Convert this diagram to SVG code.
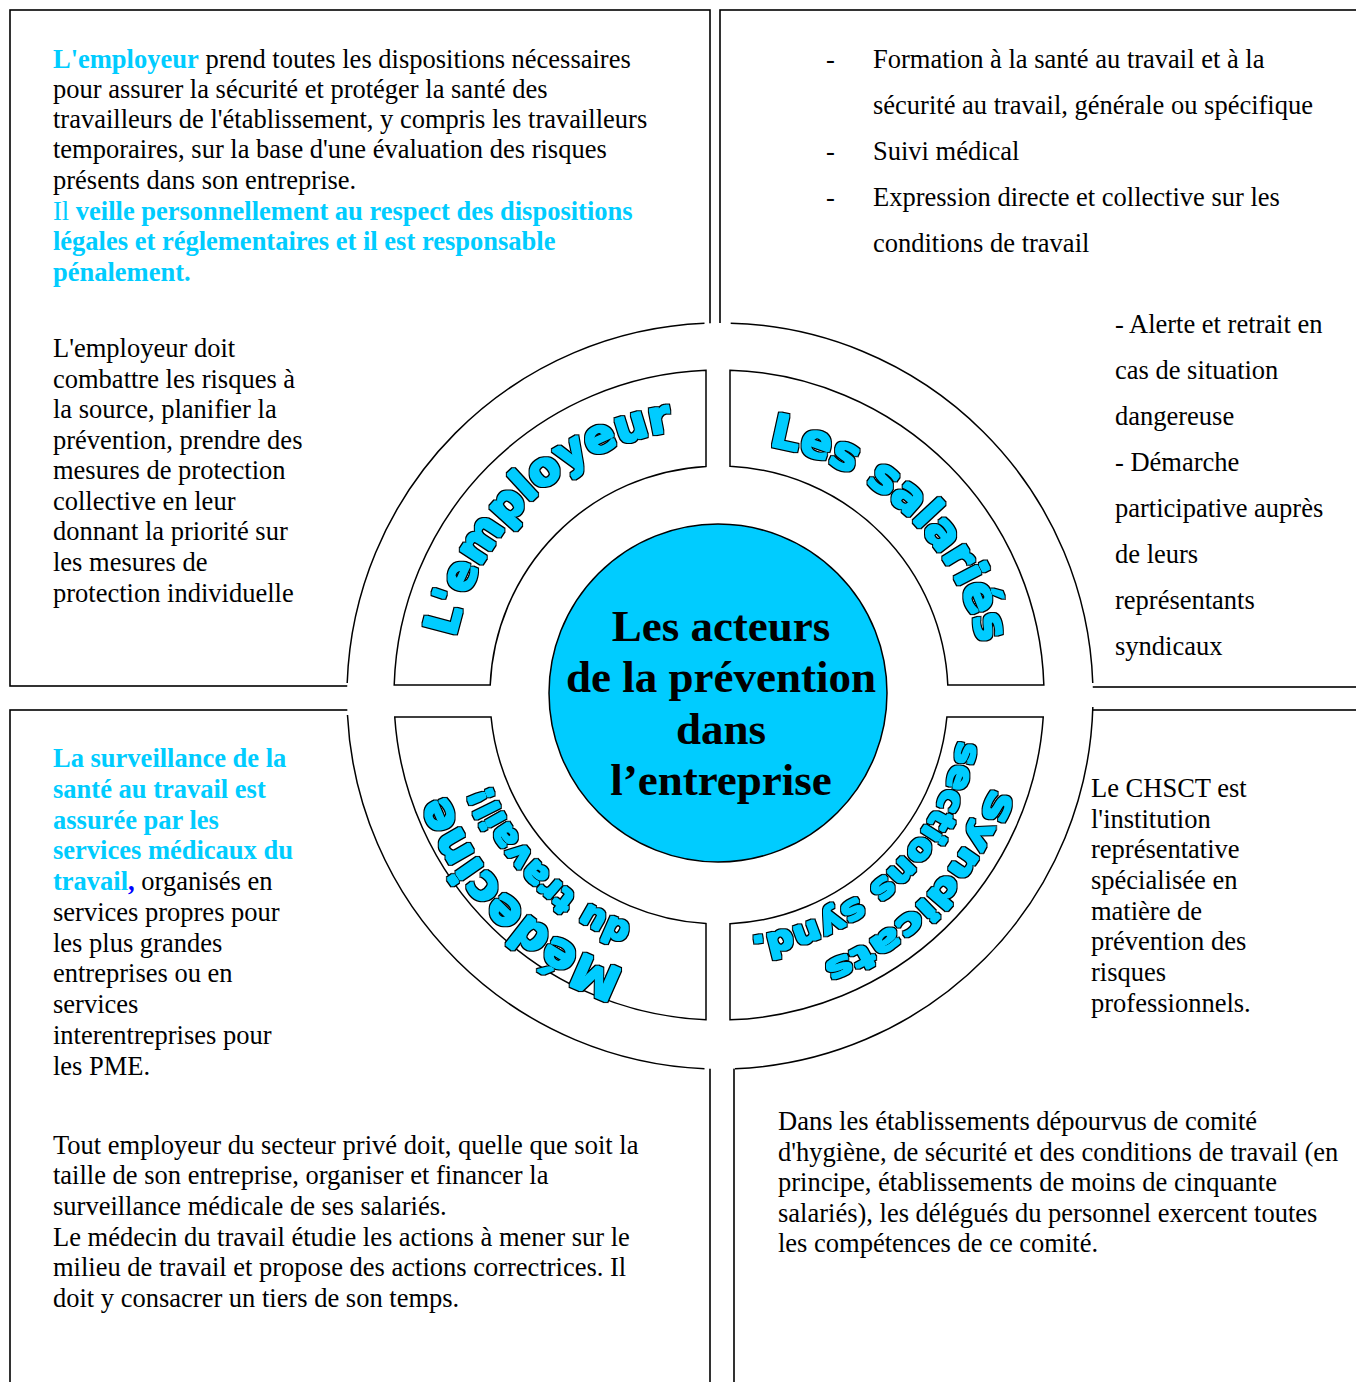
<svg xmlns="http://www.w3.org/2000/svg" width="1356" height="1382" viewBox="0 0 1356 1382">
<style>
.box{fill:none;stroke:#000;stroke-width:1.6}
.p{font-family:"Liberation Serif","Times New Roman",serif;font-size:26.5px;fill:#000}
.cy{fill:#00CCFF}
.b{font-weight:bold}
.ring{fill:none;stroke:#000;stroke-width:1.5}
.sector{fill:#fff;stroke:#000;stroke-width:1.5}
.wa{font-family:"DejaVu Sans",sans-serif;font-weight:bold;fill:#00CCFF;filter:url(#waf)}
.title{font-family:"Liberation Serif","Times New Roman",serif;font-size:45px;font-weight:bold;fill:#000;text-anchor:middle}
</style>
<defs>
<filter id="waf" filterUnits="userSpaceOnUse" x="0" y="0" width="1356" height="1382" color-interpolation-filters="sRGB">
<feMorphology in="SourceAlpha" operator="dilate" radius="2.2" result="o"/>
<feFlood flood-color="#000" result="k"/>
<feComposite in="k" in2="o" operator="in" result="ko"/>
<feMorphology in="SourceGraphic" operator="dilate" radius="0.7" result="f"/>
<feMerge><feMergeNode in="ko"/><feMergeNode in="f"/></feMerge>
</filter>
<path id="arcEmp" d="M 457.2 751.2 A 262 262 0 0 1 786.4 438.8"/>
<path id="arcSal" d="M 653.6 453.5 A 257.5 257.5 0 0 1 978.7 758.8"/>
<path id="arcMed" d="M 797 975.3 A 291 291 0 0 1 437.2 622.4"/>
<path id="arcTrav" d="M 783.7 932.3 A 246 246 0 0 1 481.1 632.4"/>
<path id="arcSynd" d="M 995.6 614.6 A 288 288 0 0 1 650.3 974.7"/>
<path id="arcSect" d="M 956.4 638.7 A 244 244 0 0 1 649.1 928.8"/>
</defs>
<rect width="1356" height="1382" fill="#fff"/>

<g id="box-employeur">
<rect class="box" x="10" y="10" width="700" height="676"/>
<text class="p" x="53" y="68"><tspan class="cy b">L'employeur</tspan> prend toutes les dispositions nécessaires</text>
<text class="p" x="53" y="98">pour assurer la sécurité et protéger la santé des</text>
<text class="p" x="53" y="128">travailleurs de l'établissement, y compris les travailleurs</text>
<text class="p" x="53" y="158">temporaires, sur la base d'une évaluation des risques</text>
<text class="p" x="53" y="189">présents dans son entreprise.</text>
<text class="p cy" x="53" y="220">Il <tspan class="b">veille personnellement au respect des dispositions</tspan></text>
<text class="p cy b" x="53" y="250">légales et réglementaires et il est responsable</text>
<text class="p cy b" x="53" y="281">pénalement.</text>
<text class="p" x="53" y="357">L'employeur doit</text>
<text class="p" x="53" y="388">combattre les risques à</text>
<text class="p" x="53" y="418">la source, planifier la</text>
<text class="p" x="53" y="449">prévention, prendre des</text>
<text class="p" x="53" y="479">mesures de protection</text>
<text class="p" x="53" y="510">collective en leur</text>
<text class="p" x="53" y="540">donnant la priorité sur</text>
<text class="p" x="53" y="571">les mesures de</text>
<text class="p" x="53" y="602">protection individuelle</text>
</g>

<g id="box-salaries">
<rect class="box" x="720" y="10" width="700" height="677"/>
<text class="p" x="826" y="68">-</text>
<text class="p" x="873" y="68">Formation à la santé au travail et à la</text>
<text class="p" x="873" y="114">sécurité au travail, générale ou spécifique</text>
<text class="p" x="826" y="160">-</text>
<text class="p" x="873" y="160">Suivi médical</text>
<text class="p" x="826" y="206">-</text>
<text class="p" x="873" y="206">Expression directe et collective sur les</text>
<text class="p" x="873" y="252">conditions de travail</text>
<text class="p" x="1115" y="333">- Alerte et retrait en</text>
<text class="p" x="1115" y="379">cas de situation</text>
<text class="p" x="1115" y="425">dangereuse</text>
<text class="p" x="1115" y="471">- Démarche</text>
<text class="p" x="1115" y="517">participative auprès</text>
<text class="p" x="1115" y="563">de leurs</text>
<text class="p" x="1115" y="609">représentants</text>
<text class="p" x="1115" y="655">syndicaux</text>
</g>

<g id="box-medecine">
<rect class="box" x="10" y="710" width="700" height="720"/>
<text class="p cy b" x="53" y="767">La surveillance de la</text>
<text class="p cy b" x="53" y="798">santé au travail est</text>
<text class="p cy b" x="53" y="829">assurée par les</text>
<text class="p cy b" x="53" y="859">services médicaux du</text>
<text class="p" x="53" y="890"><tspan class="cy b">travail</tspan><tspan class="b" fill="#0000FF">,</tspan> organisés en</text>
<text class="p" x="53" y="921">services propres pour</text>
<text class="p" x="53" y="952">les plus grandes</text>
<text class="p" x="53" y="982">entreprises ou en</text>
<text class="p" x="53" y="1013">services</text>
<text class="p" x="53" y="1044">interentreprises pour</text>
<text class="p" x="53" y="1075">les PME.</text>
<text class="p" x="53" y="1154">Tout employeur du secteur privé doit, quelle que soit la</text>
<text class="p" x="53" y="1184">taille de son entreprise, organiser et financer la</text>
<text class="p" x="53" y="1215">surveillance médicale de ses salariés.</text>
<text class="p" x="53" y="1246">Le médecin du travail étudie les actions à mener sur le</text>
<text class="p" x="53" y="1276">milieu de travail et propose des actions correctrices. Il</text>
<text class="p" x="53" y="1307">doit y consacrer un tiers de son temps.</text>
</g>

<g id="box-syndicats">
<rect class="box" x="734" y="710" width="700" height="720"/>
<text class="p" x="1091" y="797">Le CHSCT est</text>
<text class="p" x="1091" y="828">l'institution</text>
<text class="p" x="1091" y="858">représentative</text>
<text class="p" x="1091" y="889">spécialisée en</text>
<text class="p" x="1091" y="920">matière de</text>
<text class="p" x="1091" y="950">prévention des</text>
<text class="p" x="1091" y="981">risques</text>
<text class="p" x="1091" y="1012">professionnels.</text>
<text class="p" x="778" y="1130">Dans les établissements dépourvus de comité</text>
<text class="p" x="778" y="1161">d'hygiène, de sécurité et des conditions de travail (en</text>
<text class="p" x="778" y="1191">principe, établissements de moins de cinquante</text>
<text class="p" x="778" y="1222">salariés), les délégués du personnel exercent toutes</text>
<text class="p" x="778" y="1252">les compétences de ce comité.</text>
</g>

<g id="outer-ring">
<circle cx="720" cy="696" r="373" fill="#fff"/>
<path class="ring" d="M 347.2 683 A 373 373 0 0 1 704.5 323.3"/>
<path class="ring" d="M 730.7 323.15 A 373 373 0 0 1 1092.77 683"/>
<path class="ring" d="M 1092.84 707 A 373 373 0 0 1 735 1068.7"/>
<path class="ring" d="M 704.5 1068.68 A 373 373 0 0 1 347.48 715"/>
</g>

<g id="sector-employeur">
<path class="sector" d="M 394.2 685 A 325 325 0 0 1 706 370.3 L 706 466.4 A 229 229 0 0 0 490.2 685 Z"/>
<text class="wa" font-size="46"><textPath href="#arcEmp" startOffset="50%" text-anchor="middle">L'employeur</textPath></text>
</g>

<g id="sector-salaries">
<path class="sector" d="M 730 370.2 A 325 325 0 0 1 1043.85 685 L 947.8 685 A 229 229 0 0 0 730 466.3 Z"/>
<text class="wa" font-size="46"><textPath href="#arcSal" startOffset="50%" text-anchor="middle">Les salariés</textPath></text>
</g>

<g id="sector-medecine">
<path class="sector" d="M 706 923.6 A 229 229 0 0 1 491.06 717 L 394.75 717 A 325 325 0 0 0 706 1019.7 Z"/>
<text class="wa" font-size="48"><textPath href="#arcMed" startOffset="50%" text-anchor="middle">Médecine</textPath></text>
<text class="wa" font-size="35"><textPath href="#arcTrav" startOffset="50%" text-anchor="middle">du travail!</textPath></text>
</g>

<g id="sector-syndicats">
<path class="sector" d="M 730 923.7 L 730 1019.8 A 325 325 0 0 0 1043.25 717 L 946.9 717 A 229 229 0 0 1 730 923.7 Z"/>
<text class="wa" font-size="33"><textPath href="#arcSynd" startOffset="50%" text-anchor="middle" textLength="252" lengthAdjust="spacingAndGlyphs">Syndicats</textPath></text>
<text class="wa" font-size="34"><textPath href="#arcSect" startOffset="50%" text-anchor="middle" textLength="306" lengthAdjust="spacingAndGlyphs">sections synd.</textPath></text>
</g>

<g id="center">
<circle cx="718" cy="693" r="169" fill="#00CCFF" stroke="#000" stroke-width="1.5"/>
<text class="title" x="721" y="640.5">Les acteurs</text>
<text class="title" x="721" y="692">de la prévention</text>
<text class="title" x="721" y="743.5">dans</text>
<text class="title" x="721" y="795">l’entreprise</text>
</g>

<g id="connectors"></g>
</svg>
